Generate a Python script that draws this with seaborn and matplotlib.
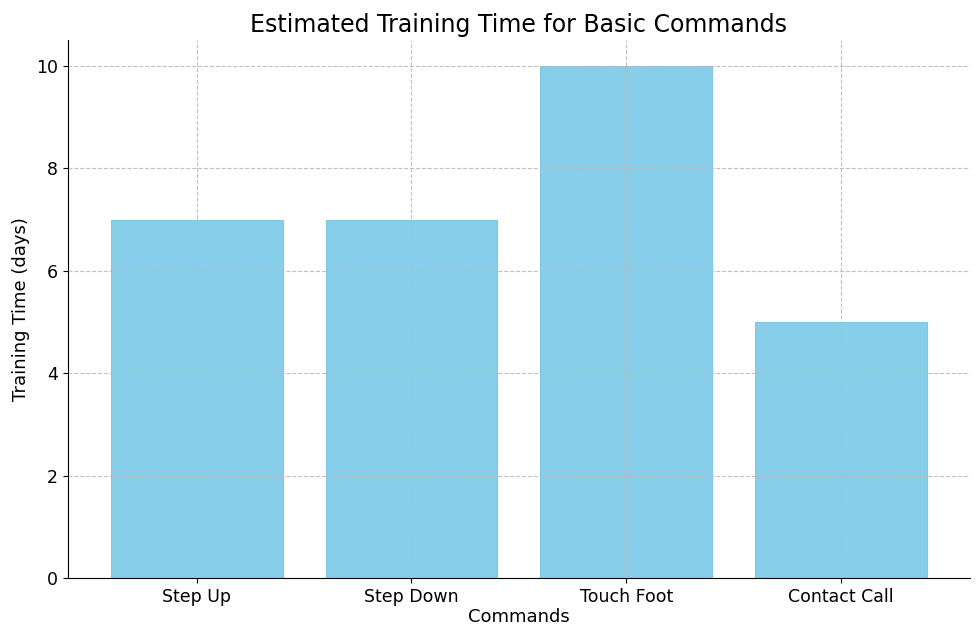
import matplotlib
matplotlib.use("Agg")
import matplotlib.pyplot as plt
import seaborn as sns
import pandas as pd

commands = ["Step Up", "Step Down", "Touch Foot", "Contact Call"]
days = [7, 7, 10, 5]

df = pd.DataFrame({"Commands": commands, "Days": days})
fig, ax = plt.subplots(figsize=(9.8, 6.4), dpi=100)
sns.barplot(data=df, x="Commands", y="Days", color="skyblue", saturation=1,
            width=0.8, edgecolor="#7ec8e3", linewidth=0.8, ax=ax)
ax.set_axisbelow(False)
ax.grid(True, linestyle="--", color="#bbbbbb", linewidth=0.8, alpha=0.9)
ax.set_xlim(-0.6, 3.6)
ax.set_ylim(0, 10.5)
ax.set_yticks([0, 2, 4, 6, 8, 10])
ax.spines["top"].set_visible(False)
ax.spines["right"].set_visible(False)
ax.tick_params(labelsize=12.5)
ax.set_title("Estimated Training Time for Basic Commands", fontsize=17)
ax.set_xlabel("Commands", fontsize=13, labelpad=2)
ax.set_ylabel("Training Time (days)", fontsize=13)
fig.subplots_adjust(left=0.069, right=0.99, top=0.937, bottom=0.097)
fig.savefig("out.png", dpi=100)
